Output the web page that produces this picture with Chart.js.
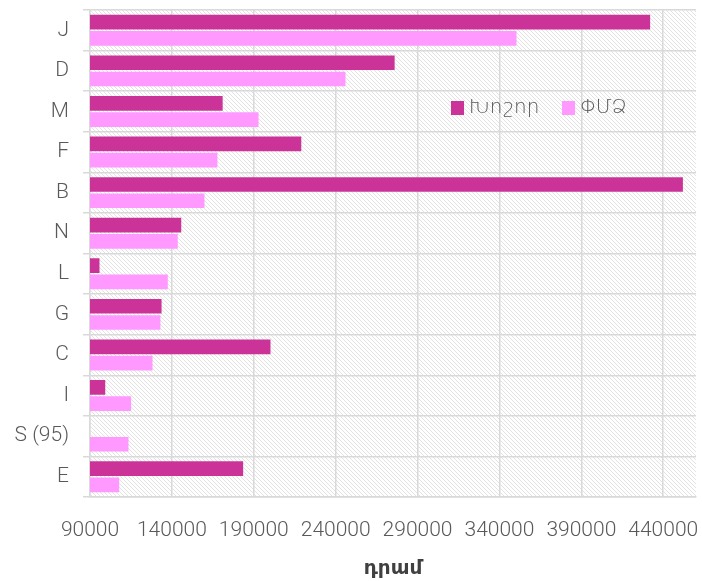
<!DOCTYPE html>
<html>
<head>
<meta charset="utf-8">
<script src="https://cdn.jsdelivr.net/npm/chart.js@4/dist/chart.umd.min.js"></script>
<style>
  html, body { margin: 0; padding: 0; background: #ffffff; }
  #wrap { width: 702px; height: 581px; position: relative; }
</style>
</head>
<body>
<div id="wrap"><canvas id="c" width="702" height="581"></canvas></div>
<script>
const categories = ['J', 'D', 'M', 'F', 'B', 'N', 'L', 'G', 'C', 'I', 'S (95)', 'E'];
const largeLabel = 'Խոշոր';
const smeLabel = 'ՓՄՁ';
const largeValues = [432000, 276000, 171000, 219000, 452000, 145700, 95800, 133700, 200200, 99300, null, 183500];
const smeValues   = [350400, 246000, 192900, 167800, 159900, 143600, 137500, 133000, 128200, 115100, 113500, 107800];
const tickValues = [90000, 140000, 190000, 240000, 290000, 340000, 390000, 440000];
const axisMin = 90000;
const axisMax = 460000;
const axisTitle = 'դրամ';

const FONT = "Roboto, 'DejaVu Sans', sans-serif";
Chart.defaults.font.family = FONT;
Chart.defaults.font.weight = '300';
Chart.defaults.color = '#595959';

function makePattern(ctx) {
  const p = document.createElement('canvas');
  p.width = 4; p.height = 4;
  const g = p.getContext('2d');
  g.fillStyle = '#ffffff';
  g.fillRect(0, 0, 4, 4);
  g.strokeStyle = '#e2e2e2';
  g.lineWidth = 1;
  g.beginPath();
  g.moveTo(-1, -1); g.lineTo(5, 5);
  g.moveTo(-1, 3); g.lineTo(1, 5);
  g.moveTo(3, -1); g.lineTo(5, 1);
  g.stroke();
  return ctx.createPattern(p, 'repeat');
}

const hatchPlugin = {
  id: 'hatch',
  beforeDraw(chart) {
    const a = chart.chartArea;
    const ctx = chart.ctx;
    ctx.save();
    ctx.fillStyle = makePattern(ctx);
    ctx.fillRect(a.left, a.top, a.right - a.left, a.bottom - a.top);
    ctx.restore();
  }
};

const legendPlugin = {
  id: 'innerLegend',
  afterDraw(chart) {
    const ctx = chart.ctx;
    const positions = [451, 562];
    const y = 108;
    ctx.save();
    ctx.font = "300 20px " + FONT;
    ctx.textBaseline = 'middle';
    ctx.textAlign = 'left';
    chart.data.datasets.forEach((ds, i) => {
      const x = positions[i];
      ctx.fillStyle = ds.backgroundColor;
      ctx.fillRect(x, y - 7, 13, 14);
      ctx.fillStyle = '#595959';
      ctx.fillText(ds.label, x + 18, y);
    });
    ctx.restore();
  }
};

new Chart(document.getElementById('c'), {
  type: 'bar',
  data: {
    labels: categories,
    datasets: [
      { label: largeLabel, data: largeValues, backgroundColor: '#CC3399', borderWidth: 0 },
      { label: smeLabel, data: smeValues, backgroundColor: '#FF99FF', borderWidth: 0 }
    ]
  },
  options: {
    indexAxis: 'y',
    responsive: false,
    animation: false,
    devicePixelRatio: 1,
    layout: { padding: { left: 0, right: 6, top: 10, bottom: 0 } },
    categoryPercentage: 0.8,
    barPercentage: 0.9,
    plugins: {
      legend: { display: false },
      tooltip: { enabled: false }
    },
    scales: {
      x: {
        type: 'linear',
        min: axisMin,
        max: axisMax,
        afterBuildTicks(scale) { scale.ticks = tickValues.map(v => ({ value: v })); },
        afterFit(scale) { scale.height = 84; scale.paddingLeft = 0; scale.paddingRight = 0; },
        ticks: {
          font: { size: 21, weight: '300' },
          color: '#595959',
          padding: 21,
          maxRotation: 0,
          autoSkip: false,
          callback: v => String(v)
        },
        grid: { color: '#d9d9d9', lineWidth: 1.5, drawTicks: false },
        border: { color: '#d9d9d9', width: 1.5 },
        title: {
          display: true,
          text: axisTitle,
          font: { size: 20, weight: '600' },
          color: '#404040',
          padding: { top: 4, bottom: 0 }
        }
      },
      y: {
        afterFit(scale) { scale.width = 90; scale.paddingTop = 0; scale.paddingBottom = 0; },
        ticks: {
          font: { size: 21, weight: '300' },
          color: '#595959',
          padding: 14
        },
        grid: { color: '#d9d9d9', lineWidth: 1.5, drawTicks: true, tickLength: 7, offset: true },
        border: { color: '#d9d9d9', width: 1.5 }
      }
    }
  },
  plugins: [hatchPlugin, legendPlugin]
});
</script>
</body>
</html>
